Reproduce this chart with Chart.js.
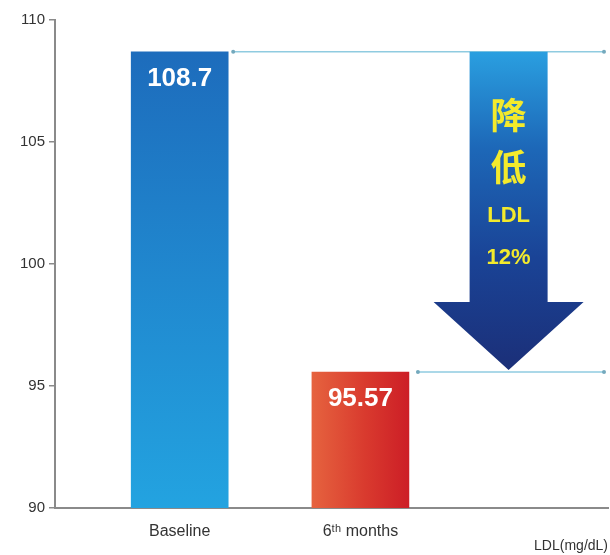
<!DOCTYPE html>
<html>
<head>
<meta charset="utf-8">
<script src="https://cdn.jsdelivr.net/npm/chart.js@4.4.1/dist/chart.umd.min.js"></script>
<style>
  html, body { margin: 0; padding: 0; background: #fff; }
  #wrap { position: relative; width: 610px; height: 555px; }
</style>
</head>
<body>
<div id="wrap"><canvas id="ldlchart"></canvas></div>
<script>
// LDL before / after
const categories = ['Baseline', '6ᵗʰ months'];
const ldlValues = [108.7, 95.57];
const yTicks = [90, 95, 100, 105, 110];
const arrowText = ['降', '低', 'LDL', '12%'];
const unitLabel = 'LDL(mg/dL)';

const FONT = "'Liberation Sans', Arial, Helvetica, sans-serif";

// bar fills: blue gets a vertical gradient, red a horizontal one
function barFill(ctx) {
  const chart = ctx.chart;
  const area = chart.chartArea;
  if (!area) return '#2196d8';
  const c = chart.ctx;
  const i = ctx.dataIndex;
  if (i === 0) {
    const top = chart.scales.y.getPixelForValue(ldlValues[0]);
    const g = c.createLinearGradient(0, top, 0, area.bottom);
    g.addColorStop(0, '#1d6cbc');
    g.addColorStop(0.5, '#2088cf');
    g.addColorStop(1, '#23a3e0');
    return g;
  }
  const cx = chart.scales.x.getPixelForValue(i);
  const g = c.createLinearGradient(cx - 50, 0, cx + 50, 0);
  g.addColorStop(0, '#e6643f');
  g.addColorStop(0.55, '#d93a2e');
  g.addColorStop(1, '#cc1d26');
  return g;
}

// reference lines + arrow + value labels
const overlay = {
  id: 'overlay',
  afterDatasetsDraw(chart) {
    const c = chart.ctx;
    const area = chart.chartArea;
    const xs = chart.scales.x, ys = chart.scales.y;
    const bars = chart.getDatasetMeta(0).data;

    const yTop = ys.getPixelForValue(ldlValues[0]);
    const yLow = ys.getPixelForValue(ldlValues[1]);

    // thin guide lines with dot ends
    const lines = [
      [bars[0].x + bars[0].width / 2 + 5, yTop],
      [bars[1].x + bars[1].width / 2 + 9, yLow]
    ];
    c.save();
    lines.forEach(([x0, y]) => {
      const x1 = area.right - 4;
      c.strokeStyle = '#8fcbe0';
      c.lineWidth = 1.5;
      c.beginPath();
      c.moveTo(x0, y);
      c.lineTo(x1, y);
      c.stroke();
      c.fillStyle = '#74a9bd';
      [x0, x1].forEach(px => {
        c.beginPath();
        c.arc(px, y, 2, 0, Math.PI * 2);
        c.fill();
      });
    });

    // down arrow between the two levels
    const cx = xs.getPixelForValue(1.82);
    const tip = yLow - 2;
    const headTop = tip - 68;
    const shaft = 39, head = 75;
    const g = c.createLinearGradient(0, yTop, 0, tip);
    g.addColorStop(0, '#2a9fe0');
    g.addColorStop(0.3, '#1d68b8');
    g.addColorStop(0.65, '#1a4396');
    g.addColorStop(1, '#1b2f78');
    c.fillStyle = g;
    c.beginPath();
    c.moveTo(cx - shaft, yTop);
    c.lineTo(cx + shaft, yTop);
    c.lineTo(cx + shaft, headTop);
    c.lineTo(cx + head, headTop);
    c.lineTo(cx, tip);
    c.lineTo(cx - head, headTop);
    c.lineTo(cx - shaft, headTop);
    c.closePath();
    c.fill();

    c.fillStyle = '#f3ea2c';
    c.textAlign = 'center';
    c.textBaseline = 'middle';
    c.font = "bold 36px 'Noto Sans CJK SC', sans-serif";
    c.fillText(arrowText[0], cx, yTop + 64);
    c.fillText(arrowText[1], cx, yTop + 116);
    c.font = 'bold 22px ' + FONT;
    c.fillText(arrowText[2], cx, yTop + 164);
    c.fillText(arrowText[3], cx, yTop + 206);

    // value labels inside the bars
    c.fillStyle = '#ffffff';
    c.font = 'bold 26px ' + FONT;
    bars.forEach((bar, i) => {
      c.fillText(String(ldlValues[i]), bar.x, bar.y + 27);
    });
    c.restore();
  }
};

new Chart(document.getElementById('ldlchart'), {
  type: 'bar',
  data: {
    datasets: [{
      data: ldlValues.map((v, i) => ({ x: i, y: v })),
      backgroundColor: barFill,
      borderWidth: 0,
      barThickness: 97
    }]
  },
  options: {
    responsive: true,
    maintainAspectRatio: false,
    animation: false,
    layout: { padding: { top: 20, right: 2, left: 0, bottom: 0 } },
    plugins: {
      legend: { display: false },
      tooltip: { enabled: false }
    },
    scales: {
      x: {
        type: 'linear',
        offset: false,
        bounds: 'data',
        min: -0.69,
        max: 2.37,
        afterBuildTicks: scale => { scale.ticks = categories.map((c, i) => ({ value: i })); },
        afterFit: scale => { scale.height = 47; },
        grid: { display: false, drawTicks: false, offset: false },
        border: { color: '#8a8a8a', width: 2 },
        ticks: {
          padding: 14,
          color: '#333',
          font: { size: 16, family: FONT },
          maxRotation: 0,
          autoSkip: false,
          callback: (v, i) => categories[i]
        },
        title: {
          display: true,
          text: unitLabel,
          align: 'end',
          color: '#333',
          font: { size: 14, family: FONT },
          padding: { top: 0, bottom: 0 }
        }
      },
      y: {
        min: 90,
        max: 110,
        afterBuildTicks: scale => { scale.ticks = yTicks.map(v => ({ value: v })); },
        afterFit: scale => { scale.width = 55; },
        grid: { drawOnChartArea: false, tickLength: 6, color: '#8a8a8a', lineWidth: 1.5 },
        border: { color: '#8a8a8a', width: 2 },
        ticks: {
          padding: 4,
          color: '#333',
          font: { size: 15, family: FONT }
        }
      }
    }
  },
  plugins: [overlay]
});
</script>
</body>
</html>
